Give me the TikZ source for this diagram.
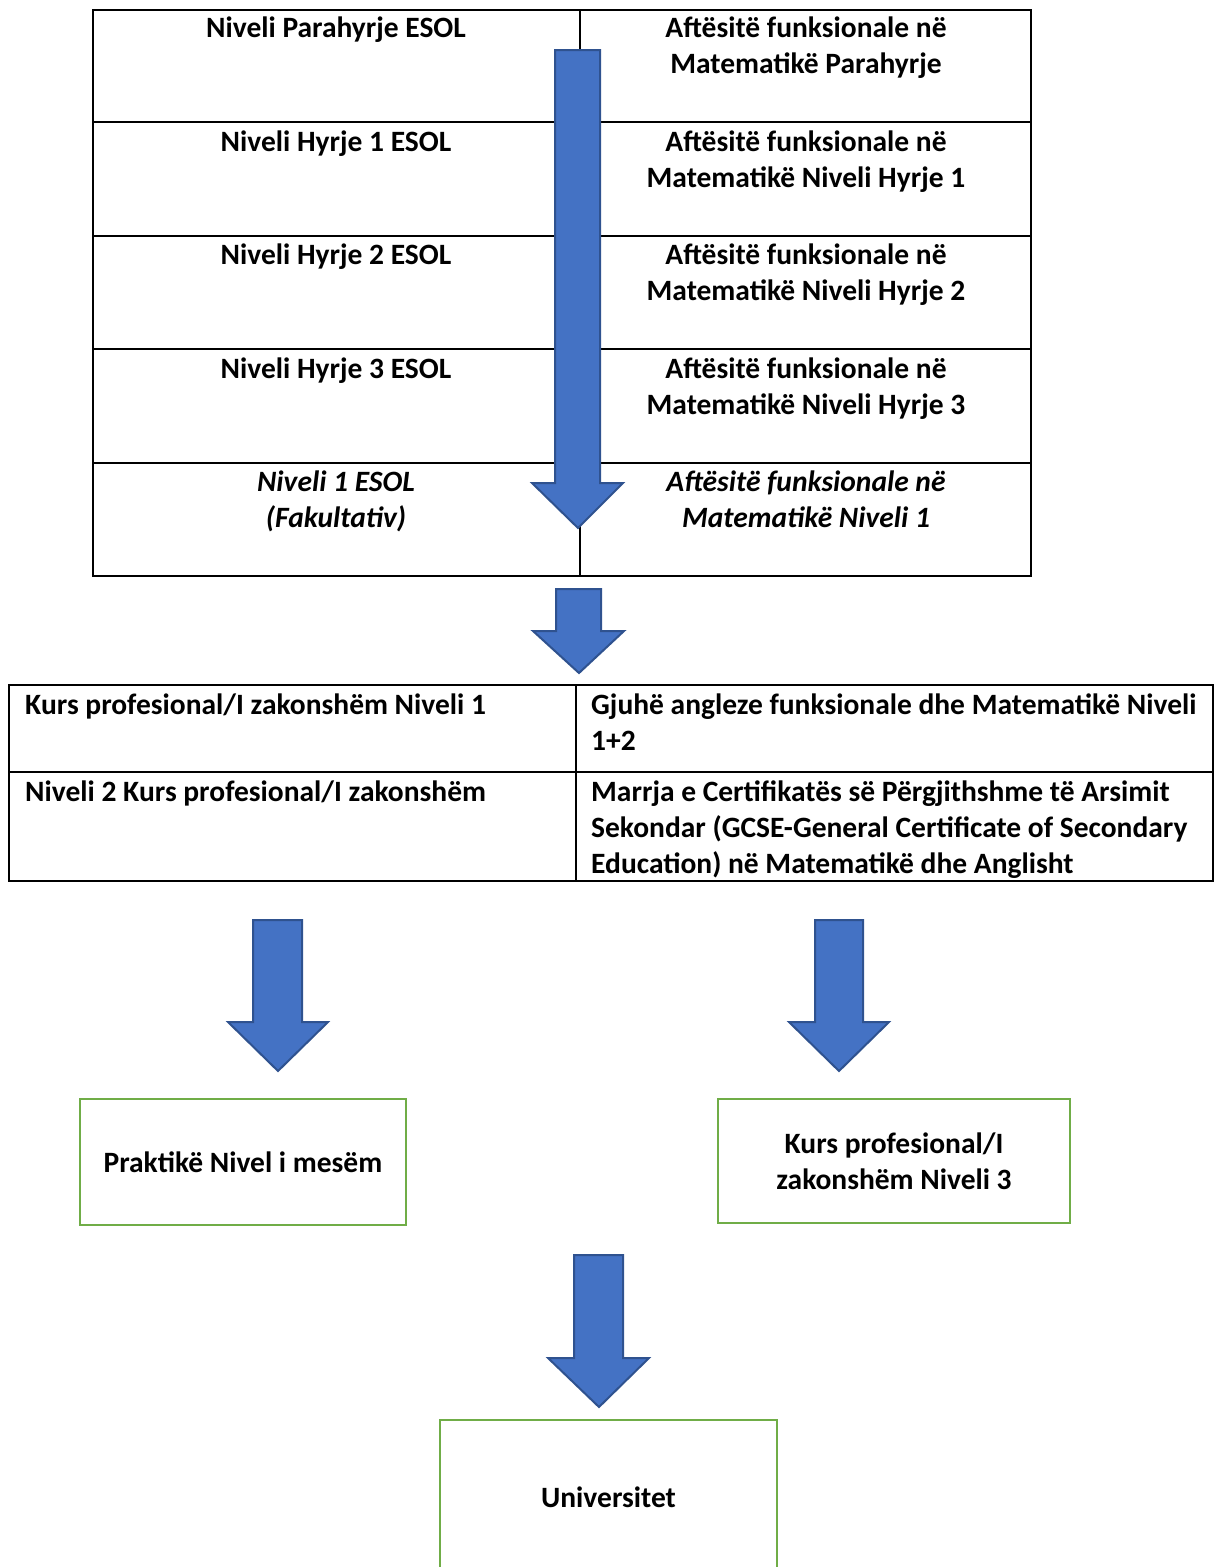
\documentclass[tikz,border=0pt]{standalone}
\usepackage{fontspec}
\setmainfont{Carlito}
\usepackage{tikz}

\definecolor{arrblue}{HTML}{4472C4}
\definecolor{arrline}{HTML}{2F528F}
\definecolor{boxgreen}{HTML}{70AD47}

\tikzset{
  txt/.style={font=\fontsize{29.5pt}{36pt}\selectfont\bfseries, inner sep=0pt},
  bigarrow/.style={fill=arrblue, draw=arrline, line width=2pt, line join=miter},
  greenbox/.style={draw=boxgreen, line width=2.5pt, align=center, font=\fontsize{29.5pt}{36pt}\selectfont\bfseries},
}

\begin{document}
\begin{tikzpicture}[x=1pt,y=-1pt]
\useasboundingbox (0,0) rectangle (1214,1567);

% ESOL / functional skills table
\draw [line width=2pt] (93,10) rectangle (1031,576);
\draw [line width=2pt] (580,10) -- (580,576);
\foreach \y in {122,236,349,463}
  \draw [line width=2pt] (93,\y) -- (1031,\y);

% (base = last line of a node)
\node [txt,anchor=base,align=center] (esol0) at (336,37) {Niveli Parahyrje ESOL};
\node [txt,anchor=base,align=center] (mat0) at (806,73) {Aftësitë funksionale në\\Matematikë Parahyrje};
\node [txt,anchor=base,align=center] (esol1) at (336,151) {Niveli Hyrje 1 ESOL};
\node [txt,anchor=base,align=center] (mat1) at (806,187) {Aftësitë funksionale në\\Matematikë Niveli Hyrje 1};
\node [txt,anchor=base,align=center] (esol2) at (336,264) {Niveli Hyrje 2 ESOL};
\node [txt,anchor=base,align=center] (mat2) at (806,300) {Aftësitë funksionale në\\Matematikë Niveli Hyrje 2};
\node [txt,anchor=base,align=center] (esol3) at (336,378) {Niveli Hyrje 3 ESOL};
\node [txt,anchor=base,align=center] (mat3) at (806,414) {Aftësitë funksionale në\\Matematikë Niveli Hyrje 3};
\node [txt,anchor=base,align=center,font=\fontsize{29.5pt}{36pt}\selectfont\bfseries\itshape] (esol4) at (336,527) {Niveli 1 ESOL\\(Fakultativ)};
\node [txt,anchor=base,align=center,font=\fontsize{29.5pt}{36pt}\selectfont\bfseries\itshape] (mat4) at (806,527) {Aftësitë funksionale në\\Matematikë Niveli 1};

% long arrow over the table
\draw [bigarrow] (555,50) -- (600,50) -- (600,483) -- (623,483) -- (578,528) -- (532,483) -- (555,483) -- cycle;

% arrow to courses
\draw [bigarrow] (556,589) -- (601,589) -- (601,631) -- (624,631) -- (579,673) -- (533,631) -- (556,631) -- cycle;

% course table
\draw [line width=2pt] (9,685) rectangle (1213,881);
\draw [line width=2pt] (9,772) -- (1213,772);
\draw [line width=2pt] (576,685) -- (576,881);

\node [txt,anchor=base west,align=left] (kurs1) at (25,714) {Kurs profesional/I zakonshëm Niveli 1};
\node [txt,anchor=base west,align=left] (gjuhe) at (591,750) {Gjuhë angleze funksionale dhe Matematikë Niveli\\1+2};
\node [txt,anchor=base west,align=left] (kurs2) at (25,801) {Niveli 2 Kurs profesional/I zakonshëm};
\node [txt,anchor=base west,align=left] (gcse) at (591,873) {Marrja e Certifikatës së Përgjithshme të Arsimit\\Sekondar (GCSE-General Certificate of Secondary\\Education) në Matematikë dhe Anglisht};

% two arrows down
\draw [bigarrow] (253,920) -- (302,920) -- (302,1022) -- (328,1022) -- (278,1071) -- (228,1022) -- (253,1022) -- cycle;
\draw [bigarrow] (815,920) -- (863,920) -- (863,1022) -- (889,1022) -- (839,1071) -- (789,1022) -- (815,1022) -- cycle;

\node [greenbox,minimum width=326pt,minimum height=126pt] (prak) at (243,1162) {Praktikë Nivel i mesëm};
\node [greenbox,minimum width=352pt,minimum height=124pt] (kurs3) at (894,1161) {Kurs profesional/I\\zakonshëm Niveli 3};

% last arrow
\draw [bigarrow] (574,1255) -- (623,1255) -- (623,1358) -- (649,1358) -- (599,1407) -- (548,1358) -- (574,1358) -- cycle;

\node [greenbox,minimum width=337pt,minimum height=154pt] (univ) at (608.5,1497) {Universitet};
\end{tikzpicture}
\end{document}
